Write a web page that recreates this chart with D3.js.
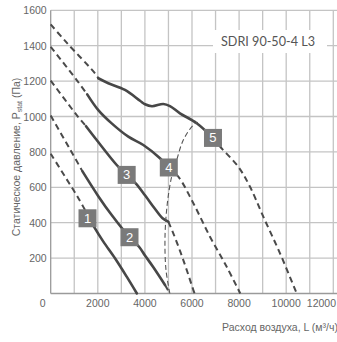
<!DOCTYPE html>
<html><head><meta charset="utf-8">
<script src="https://cdn.jsdelivr.net/npm/d3@7/dist/d3.min.js"></script>
<style>html,body{margin:0;padding:0;background:#fff;}svg{display:block;}</style>
</head><body>
<svg id="c" width="337" height="342"></svg>
<script>
// ---- data (L in m3/h, P in Pa) ----
const xTicks = [0, 2000, 4000, 6000, 8000, 10000, 12000];
const yTicks = [200, 400, 600, 800, 1000, 1200, 1400, 1600];
const xGrid = [1000,2000,3000,4000,5000,6000,7000,8000,9000,10000,11000,12000];
const curveNames = ["1","2","3","4","5"];
const dashStart = [
  [[0,790],[600,662],[1170,540],[1700,412]],
  [[0,1005],[820,815],[1350,690]],
  [[0,1203],[1104,1008],[1500,945]],
  [[0,1394],[1104,1206],[1550,1125]],
  [[0,1520],[679,1417],[1881,1244],[2021,1216]]
];
const solid = [
  [[1700,412],[1881,368],[2235,293],[2730,199],[3227,95],[3660,0]],
  [[1350,690],[2021,550],[2590,443],[3346,318],[3750,264],[4004,215],[4359,148],[4854,48]],
  [[1500,945],[1953,867],[2803,726],[3226,670],[3609,622],[4004,555],[4400,483],[4750,425],[4994,406]],
  [[1550,1125],[2021,1036],[2590,961],[3296,886],[3933,839],[4641,764],[5015,708]],
  [[2021,1216],[2446,1188],[3155,1150],[3792,1089],[4004,1069],[4300,1058],[4781,1071],[5064,1059],[5488,1018],[6200,962],[6891,879]]
];
const dashEnd = [
  [],
  [[4854,48],[5060,0]],
  [[4994,406],[5206,340],[5631,189],[6057,20],[6110,0]],
  [[5015,708],[5419,660],[6057,510],[6764,321],[7473,151],[8050,0]],
  [[6891,879],[7198,829],[7966,716],[8463,603],[9027,434],[9737,227],[10446,0]]
];
const systemLine = [[5060,0],[4896,133],[4854,321],[4953,510],[5137,660],[5350,754],[5631,867],[6057,952],[6250,968]];
const labelPos = [[1563,425],[3346,318],[3226,670],[5015,712],[6891,879]];
const title = "SDRI 90-50-4 L3";
const xTitle = "Расход воздуха, L (м³/ч)";

// ---- chart ----
const svg = d3.select("#c");
const x = d3.scaleLinear().domain([0,12000]).range([50.7, 333.3]);
const y = d3.scaleLinear().domain([0,1600]).range([293.5, 10.3]);
const font = "'Liberation Sans', Arial, sans-serif";

const g = svg.append("g");
// grid
g.selectAll(".vg").data(xGrid).enter().append("line")
  .attr("x1", d=>x(d)).attr("x2", d=>x(d)).attr("y1", y(0)).attr("y2", y(1600))
  .attr("stroke", "#c4c4c4").attr("stroke-width", 1.3);
g.selectAll(".hg").data(yTicks).enter().append("line")
  .attr("x1", x(0)).attr("x2", x(12000)+4).attr("y1", d=>y(d)).attr("y2", d=>y(d))
  .attr("stroke", "#c4c4c4").attr("stroke-width", 1.3);
// axes lines
g.append("line").attr("x1", x(0)).attr("x2", x(0)).attr("y1", y(0)).attr("y2", y(1600))
  .attr("stroke", "#9a9a9a").attr("stroke-width", 1.3);
g.append("line").attr("x1", x(0)).attr("x2", x(12000)+4).attr("y1", y(0)).attr("y2", y(0))
  .attr("stroke", "#9a9a9a").attr("stroke-width", 1.3);

// tick labels
g.selectAll(".yt").data(yTicks).enter().append("text")
  .attr("x", x(0)-4).attr("y", d=>y(d)+4).attr("text-anchor","end")
  .attr("font-family", font).attr("font-size", 10.5).attr("fill", "#666")
  .text(d=>d);
g.selectAll(".xt").data(xTicks).enter().append("text")
  .attr("x", d=> d===0 ? x(0)-8 : (d===12000 ? 336 : x(d))).attr("y", y(0)+13)
  .attr("text-anchor", d=> d===12000 ? "end" : "middle")
  .attr("font-family", font).attr("font-size", 10.5).attr("fill", "#666")
  .text(d=>d);

// axis titles
const yt = g.append("text").attr("transform", `translate(20,${157}) rotate(-90)`)
  .attr("text-anchor","middle").attr("font-family", font).attr("font-size", 10.5).attr("fill", "#666");
yt.append("tspan").text("Статическое давление, P");
yt.append("tspan").attr("font-size", 7).attr("dy", 2).text("stat");
yt.append("tspan").attr("dy", -2).text(" (Па)");
g.append("text").attr("x", 222).attr("y", 331).attr("font-family", font).attr("font-size", 10.5)
  .attr("fill", "#666").text(xTitle);

// title box
g.append("rect").attr("x", 213).attr("y", 30).attr("width", 114).attr("height", 23).attr("fill", "#fff");
g.append("text").attr("x", 268).attr("y", 46).attr("text-anchor","middle")
  .attr("font-family", "Lato, 'Open Sans', sans-serif").attr("font-size", 14).attr("fill", "#555")
  .attr("textLength", 94).attr("lengthAdjust","spacingAndGlyphs").text(title);

// curves
const line = d3.line().x(d=>x(d[0])).y(d=>y(d[1])).curve(d3.curveCatmullRom.alpha(0.5));
const cg = g.append("g");
dashStart.forEach(pts => { if (pts.length) cg.append("path").attr("d", line(pts)).attr("fill","none")
  .attr("stroke","#4a4a4a").attr("stroke-width",2).attr("stroke-dasharray","6,4"); });
dashEnd.forEach(pts => { if (pts.length) cg.append("path").attr("d", line(pts)).attr("fill","none")
  .attr("stroke","#4a4a4a").attr("stroke-width",2).attr("stroke-dasharray","6,4"); });
solid.forEach(pts => cg.append("path").attr("d", line(pts)).attr("fill","none")
  .attr("stroke","#474747").attr("stroke-width",2.6).attr("stroke-linecap","round"));
cg.append("path").attr("d", line(systemLine)).attr("fill","none")
  .attr("stroke","#555").attr("stroke-width",1.1).attr("stroke-dasharray","5,3");

// number labels
labelPos.forEach((p,i) => {
  cg.append("rect").attr("x", x(p[0])-9).attr("y", y(p[1])-9).attr("width",18).attr("height",18)
    .attr("fill","#7a7a7a");
  cg.append("text").attr("x", x(p[0])).attr("y", y(p[1])+4.5).attr("text-anchor","middle")
    .attr("font-family", font).attr("font-size", 13).attr("fill","#fff").text(curveNames[i]);
});
</script>
</body></html>
